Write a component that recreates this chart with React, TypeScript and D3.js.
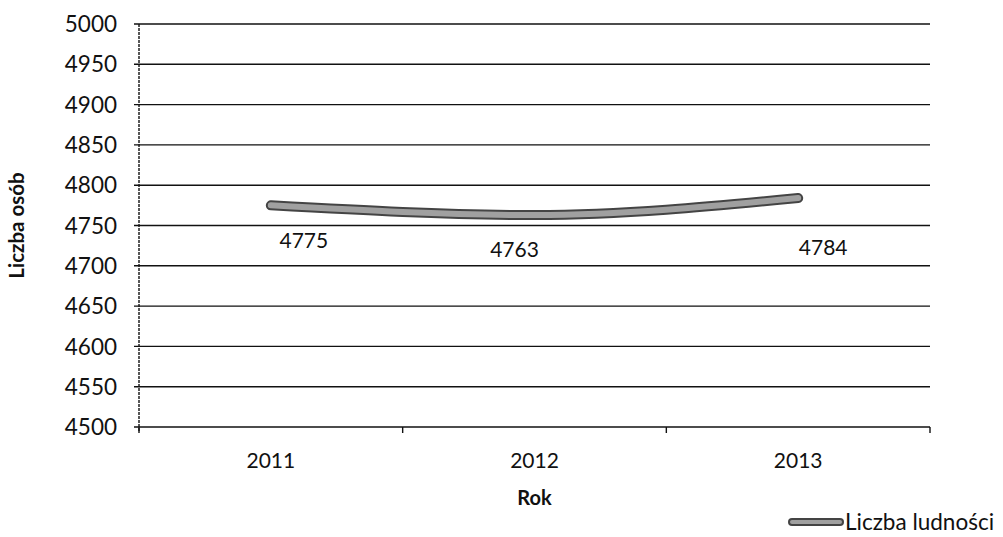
import React from "react";
import * as d3 from "d3";

const years = ["2011", "2012", "2013"];
const population = [4775, 4763, 4784];
const yTicks = [4500, 4550, 4600, 4650, 4700, 4750, 4800, 4850, 4900, 4950, 5000];
const labelDx = [33, -20, 25];
const labelDy = [43, 42, 57];

const W = 1003;
const H = 537;
const left = 139;
const right = 930;
const top = 24;
const bottom = 427;
const font = "Lato, 'Open Sans', sans-serif";

export default function App() {
  const x = d3.scaleBand<string>().domain(years).range([left, right]);
  const y = d3.scaleLinear().domain([4500, 5000]).range([bottom, top]);
  const cx = (d: string) => (x(d) as number) + x.bandwidth() / 2;
  const line = d3
    .line<number>()
    .x((_, i) => cx(years[i]))
    .y((v) => y(v))
    .curve(d3.curveMonotoneX);
  const path = line(population) || "";
  const boundaries = [...years.map((d) => x(d) as number), right];

  return (
    <svg
      width={W}
      height={H}
      style={{ position: "absolute", left: 0, top: 0, background: "#fff" }}
      fontFamily={font}
    >
      {yTicks.map((t) => (
        <g key={t}>
          <line x1={left - 5} x2={right} y1={y(t)} y2={y(t)} stroke="#111" strokeWidth={1.4} />
          <text x={117} y={y(t)} dy="0.36em" textAnchor="end" fontSize={22.5} fill="#111">
            {t}
          </text>
        </g>
      ))}
      <line x1={left} x2={left} y1={top} y2={bottom + 5} stroke="#111" strokeWidth={1.4} strokeDasharray="3 1" />
      {boundaries.map((b, i) => (
        <line key={i} x1={b} x2={b} y1={bottom} y2={bottom + 6} stroke="#111" strokeWidth={1.4} />
      ))}
      {years.map((d) => (
        <text key={d} x={cx(d)} y={468} textAnchor="middle" fontSize={21} fill="#111">
          {d}
        </text>
      ))}
      <path d={path} fill="none" stroke="#444" strokeWidth={10} strokeLinecap="round" />
      <path d={path} fill="none" stroke="#a0a0a0" strokeWidth={6} strokeLinecap="round" />
      {population.map((v, i) => (
        <text
          key={i}
          x={cx(years[i]) + labelDx[i]}
          y={y(v) + labelDy[i]}
          textAnchor="middle"
          fontSize={21}
          fill="#111"
        >
          {v}
        </text>
      ))}
      <text
        transform={`translate(24,${(top + bottom) / 2}) rotate(-90)`}
        textAnchor="middle"
        fontSize={20.5}
        fontWeight="bold"
        fill="#111"
      >
        Liczba osób
      </text>
      <text x={cx("2012")} y={505} textAnchor="middle" fontSize={20} fontWeight="bold" fill="#111">
        Rok
      </text>
      <line x1={792} x2={840} y1={522} y2={522} stroke="#444" strokeWidth={8} strokeLinecap="round" />
      <line x1={792} x2={840} y1={522} y2={522} stroke="#a0a0a0" strokeWidth={4} strokeLinecap="round" />
      <text x={845} y={522} dy="0.35em" fontSize={22.5} fill="#111">
        Liczba ludności
      </text>
    </svg>
  );
}
